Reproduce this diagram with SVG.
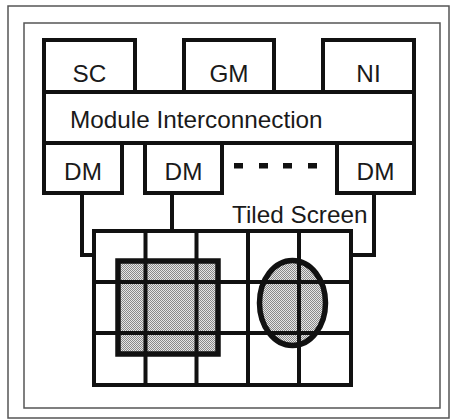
<svg xmlns="http://www.w3.org/2000/svg" width="458" height="420" viewBox="0 0 458 420">
<style>
.frame{fill:none;stroke:#555;stroke-width:1.5}
.box{fill:#fff;stroke:#111;stroke-width:4}
.lbl{font-family:"Liberation Sans",Arial,sans-serif;font-size:24.3px;fill:#1a1a1a}
.wire{fill:none;stroke:#111;stroke-width:4}
.grid{fill:none;stroke:#111;stroke-width:4}
.shape{fill:url(#dots);stroke:#111;stroke-width:5.5}
</style>
<defs>
<pattern id="dots" width="2" height="2" patternUnits="userSpaceOnUse">
<rect width="2" height="2" fill="#e6e6e6"/>
<rect width="1" height="1" fill="#8a8a8a"/>
<rect x="1" y="1" width="1" height="1" fill="#8a8a8a"/>
</pattern>
</defs>
<rect width="458" height="420" fill="#fff"/>
<rect class="frame" x="8" y="6" width="441" height="412"/>
<rect class="frame" x="24" y="23" width="416" height="385"/>
<g id="connectors">
<polyline class="wire" points="82,193 82,255 94,255"/>
<polyline class="wire" points="172,193 172,231"/>
<polyline class="wire" points="374,193 374,255 351,255"/>
<g fill="#111">
<rect x="234" y="163" width="9" height="5.5"/>
<rect x="259" y="163" width="9" height="5.5"/>
<rect x="283" y="163" width="9" height="5.5"/>
<rect x="308" y="163" width="9" height="5.5"/>
</g>
</g>
<g id="MI"><rect class="box" x="44" y="92" width="370" height="51"/><text class="lbl" x="70" y="128">Module Interconnection</text></g>
<g id="SC"><rect class="box" x="44" y="40" width="91" height="52"/><text class="lbl" x="89.5" y="82" text-anchor="middle">SC</text></g>
<g id="GM"><rect class="box" x="184" y="40" width="90" height="52"/><text class="lbl" x="229" y="82" text-anchor="middle">GM</text></g>
<g id="NI"><rect class="box" x="323" y="40" width="91" height="52"/><text class="lbl" x="368.5" y="82" text-anchor="middle">NI</text></g>
<g id="DM1"><rect class="box" x="44" y="143" width="78" height="50"/><text class="lbl" x="83" y="180" text-anchor="middle">DM</text></g>
<g id="DM2"><rect class="box" x="145" y="143" width="77" height="50"/><text class="lbl" x="183.5" y="180" text-anchor="middle">DM</text></g>
<g id="DM3"><rect class="box" x="337" y="143" width="77" height="50"/><text class="lbl" x="375.5" y="180" text-anchor="middle">DM</text></g>
<g id="TiledScreen">
<text class="lbl" x="232" y="223">Tiled Screen</text>
<rect x="94" y="231" width="257" height="154" fill="#fff"/>
<rect class="shape" x="118" y="261" width="100" height="93"/>
<ellipse class="shape" cx="292.5" cy="303" rx="33" ry="42.5"/>
<rect class="grid" x="94" y="231" width="257" height="154"/>
<path class="grid" d="M145.5,231V385M196.5,231V385M248,231V385M299,231V385M94,282H351M94,333H351"/>
</g>
</svg>
